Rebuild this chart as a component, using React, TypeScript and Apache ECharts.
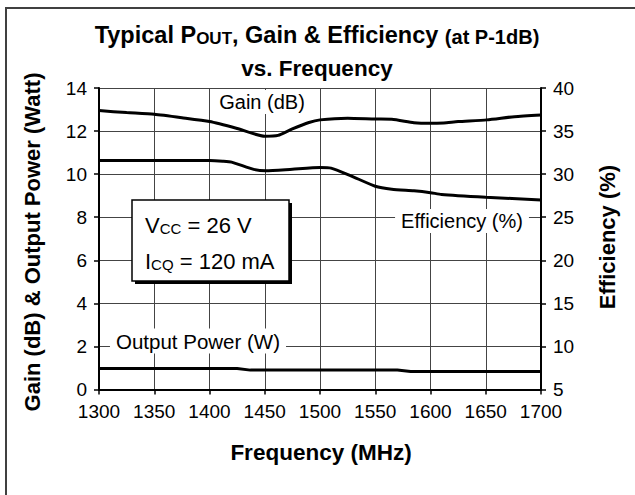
import React, { useEffect, useRef } from "react";
import * as echarts from "echarts";

const FONT = "'Liberation Sans', Arial, sans-serif";

const gainData: [number, number][] = [
  [1300, 12.95], [1325, 12.86], [1350, 12.78], [1375, 12.62], [1400, 12.44],
  [1425, 12.12], [1450, 11.76], [1462, 11.8], [1475, 12.1], [1490, 12.4],
  [1500, 12.52], [1525, 12.6], [1550, 12.56], [1565, 12.55], [1585, 12.39],
  [1600, 12.36], [1612, 12.38], [1625, 12.44], [1651, 12.52], [1676, 12.67],
  [1700, 12.75],
];

const efficiencyData: [number, number][] = [
  [1300, 31.57], [1400, 31.57], [1412, 31.5], [1420, 31.4], [1440, 30.55],
  [1451, 30.38], [1475, 30.57], [1500, 30.76], [1510, 30.7], [1528, 29.8],
  [1550, 28.6], [1565, 28.25], [1585, 28.06], [1600, 27.85], [1610, 27.65],
  [1650, 27.33], [1700, 27.0],
];

const outputPowerData: [number, number][] = [
  [1300, 0.98], [1425, 0.98], [1437, 0.9], [1570, 0.9], [1582, 0.84], [1700, 0.84],
];

const xTicks = { min: 1300, max: 1700, interval: 50 };
const leftTicks = { min: 0, max: 14, interval: 2 };
const rightTicks = { min: 5, max: 40, interval: 5 };

export default function App() {
  const ref = useRef<HTMLDivElement>(null);
  useEffect(() => {
    if (!ref.current) return;
    const chart = echarts.init(ref.current, undefined, { renderer: "svg" });
    const axisLabel = {
      color: "#000", fontSize: 19, fontFamily: FONT, margin: 12,
      formatter: (v: number) => String(v),
    };
    const axisLine = { show: true, lineStyle: { color: "#000", width: 2 } };
    const axisTick = { show: true, inside: false, length: 5, lineStyle: { color: "#000", width: 1.5 } };
    const splitLine = { show: true, lineStyle: { color: "#444", width: 1 } };
    chart.setOption({
      animation: false,
      backgroundColor: "#fff",
      grid: { left: 99, right: 94, top: 88, bottom: 105.5 },
      xAxis: {
        type: "value",
        ...xTicks,
        axisLine, axisTick, splitLine, axisLabel,
      },
      yAxis: [
        { type: "value", ...leftTicks, axisLine, axisTick, splitLine, axisLabel },
        {
          type: "value", position: "right", ...rightTicks,
          axisLine, axisTick, splitLine: { show: false }, axisLabel,
        },
      ],
      series: [
        {
          name: "Gain (dB)", type: "line", yAxisIndex: 0, data: gainData,
          smooth: 0.2, showSymbol: false, lineStyle: { color: "#000", width: 3 },
        },
        {
          name: "Efficiency (%)", type: "line", yAxisIndex: 1, data: efficiencyData,
          smooth: 0.2, showSymbol: false, lineStyle: { color: "#000", width: 3 },
        },
        {
          name: "Output Power (W)", type: "line", yAxisIndex: 0, data: outputPowerData,
          showSymbol: false, lineStyle: { color: "#000", width: 3 },
        },
      ],
      graphic: [
        {
          type: "rect", z: 100, silent: true,
          shape: { x: 6, y: 8, width: 700, height: 600 },
          style: { fill: "none", stroke: "#404040", lineWidth: 2 },
        },
        {
          type: "text", z: 100, x: 317, y: 33,
          style: {
            text: "{a|Typical P}{s|OUT}{a|, Gain & Efficiency }{b|(at P-1dB)}",
            align: "center", verticalAlign: "middle",
            rich: {
              a: { fontSize: 23.5, fontWeight: "bold", fontFamily: FONT, fill: "#000", lineHeight: 28, verticalAlign: "bottom" },
              s: { fontSize: 17, fontWeight: "bold", fontFamily: FONT, fill: "#000", lineHeight: 23, verticalAlign: "bottom" },
              b: { fontSize: 20, fontWeight: "bold", fontFamily: FONT, fill: "#000", lineHeight: 26, verticalAlign: "bottom" },
            },
          },
        },
        {
          type: "text", z: 100, x: 317, y: 68,
          style: {
            text: "vs. Frequency", align: "center", verticalAlign: "middle",
            fontSize: 22.5, fontWeight: "bold", fontFamily: FONT, fill: "#000",
          },
        },
        {
          type: "text", z: 100, x: 32, y: 242, rotation: Math.PI / 2,
          style: {
            text: "Gain (dB) & Output Power (Watt)", align: "center", verticalAlign: "middle",
            fontSize: 22, fontWeight: "bold", fontFamily: FONT, fill: "#000",
          },
        },
        {
          type: "text", z: 100, x: 607, y: 237, rotation: Math.PI / 2,
          style: {
            text: "Efficiency (%)", align: "center", verticalAlign: "middle",
            fontSize: 22, fontWeight: "bold", fontFamily: FONT, fill: "#000",
          },
        },
        {
          type: "text", z: 100, x: 321, y: 452,
          style: {
            text: "Frequency (MHz)", align: "center", verticalAlign: "middle",
            fontSize: 22.5, fontWeight: "bold", fontFamily: FONT, fill: "#000",
          },
        },
        {
          type: "text", z: 100, x: 262, y: 102,
          style: {
            text: "Gain (dB)", align: "center", verticalAlign: "middle",
            fontSize: 20, fontFamily: FONT, fill: "#000",
            backgroundColor: "#fff", padding: [2, 6, 2, 6],
          },
        },
        {
          type: "text", z: 100, x: 462, y: 221,
          style: {
            text: "Efficiency (%)", align: "center", verticalAlign: "middle",
            fontSize: 20, fontFamily: FONT, fill: "#000",
            backgroundColor: "#fff", padding: [2, 6, 2, 6],
          },
        },
        {
          type: "text", z: 100, x: 198, y: 341,
          style: {
            text: "Output Power (W)", align: "center", verticalAlign: "middle",
            fontSize: 20.5, fontFamily: FONT, fill: "#000",
            backgroundColor: "#fff", padding: [2, 6, 2, 6],
          },
        },
        {
          type: "rect", z: 100, silent: true,
          shape: { x: 135, y: 203, width: 157, height: 81 },
          style: { fill: "#000" },
        },
        {
          type: "rect", z: 101, silent: true,
          shape: { x: 132, y: 200, width: 157, height: 81 },
          style: { fill: "#fff", stroke: "#000", lineWidth: 1.5 },
        },
        {
          type: "text", z: 102, x: 145, y: 223,
          style: {
            text: "{a|V}{s|CC}{a| = 26 V}", align: "left", verticalAlign: "middle",
            rich: {
              a: { fontSize: 22, fontFamily: FONT, fill: "#000", lineHeight: 26, verticalAlign: "bottom" },
              s: { fontSize: 15, fontFamily: FONT, fill: "#000", lineHeight: 18, verticalAlign: "bottom" },
            },
          },
        },
        {
          type: "text", z: 102, x: 145, y: 259,
          style: {
            text: "{a|I}{s|CQ}{a| = 120 mA}", align: "left", verticalAlign: "middle",
            rich: {
              a: { fontSize: 22, fontFamily: FONT, fill: "#000", lineHeight: 26, verticalAlign: "bottom" },
              s: { fontSize: 15, fontFamily: FONT, fill: "#000", lineHeight: 18, verticalAlign: "bottom" },
            },
          },
        },
      ],
    });
    return () => chart.dispose();
  }, []);
  return <div ref={ref} style={{ width: 635, height: 495, position: "absolute", left: 0, top: 0 }} />;
}
